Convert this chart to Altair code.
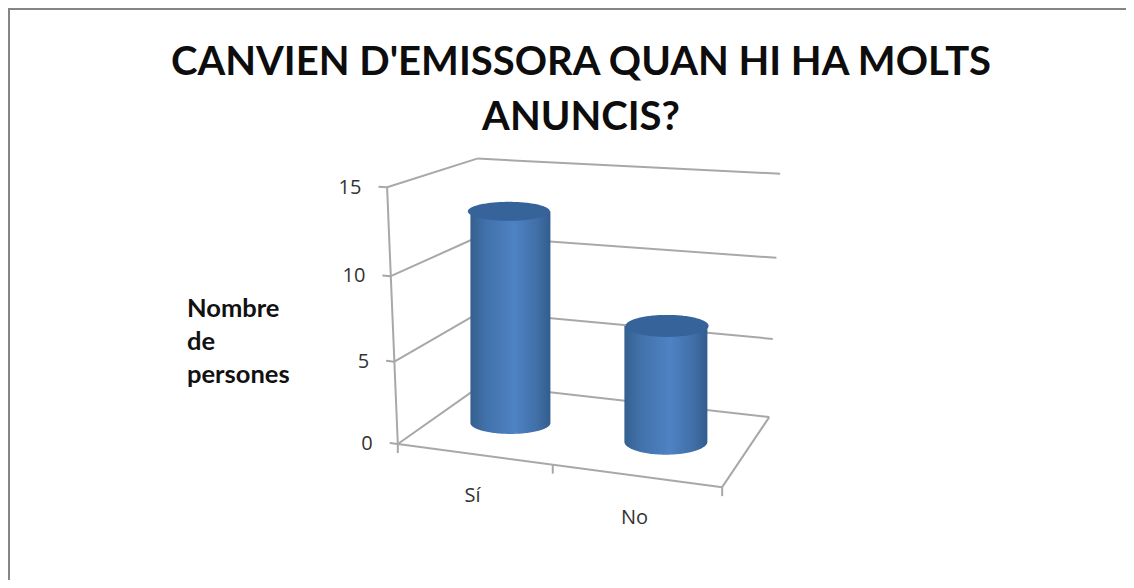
import numpy as np
import pandas as pd
import altair as alt

# --- chart values -----------------------------------------------------------
title_lines = ["CANVIEN D'EMISSORA QUAN HI HA MOLTS", "ANUNCIS?"]
categories = ["Sí", "No"]
values = [13, 7]
y_ticks = [0, 5, 10, 15]
y_title_lines = ["Nombre", "de", "persones"]

# --- 3D view: where known frame corners (category u, value v, depth d) land ---
view_u = [0, 0, 0, 0, 0, 0, 0, 0, 2, 2, 2, 2, 2, 1]
view_v = [0, 5, 10, 15, 0, 5, 10, 15, 0, 5, 10, 15, 0, 0]
view_d = [0, 0, 0, 0, 1, 1, 1, 1, 1, 1, 1, 1, 0, 0]
view_x = [398, 394, 392, 387, 483, 480, 478, 477, 769, 773, 777, 780, 722, 552]
view_y = [444, 361, 276, 187, 385, 312, 236, 159, 416, 339, 258, 174, 487, 466]

A = []
for u, v, d, px, py in zip(view_u, view_v, view_d, view_x, view_y):
    A.append([u, v, d, 1, 0, 0, 0, 0, -px * u, -px * v, -px * d, -px])
    A.append([0, 0, 0, 0, u, v, d, 1, -py * u, -py * v, -py * d, -py])
M = np.linalg.svd(np.array(A, dtype=float))[2][-1].reshape(3, 4)


def project(u, v, d):
    h = M @ np.array([u, v, d, 1.0])
    return h[0] / h[2], h[1] / h[2]


# --- frame lines ------------------------------------------------------------
segs = []


def seg(a, b):
    x, y = project(*a)
    x2, y2 = project(*b)
    segs.append(dict(x=x, y=y, x2=x2, y2=y2))


for t in y_ticks:
    seg((0, t, 0), (0, t, 1))
    seg((0, t, 1), (2, t, 1))
    seg((0, t, 0), (-0.055, t, 0))
seg((0, 0, 0), (0, 15, 0))
seg((0, 0, 0), (2, 0, 0))
seg((2, 0, 0), (2, 0, 1))
for u in [0, 1, 2]:
    x, y = project(u, 0, 0)
    segs.append(dict(x=x, y=y, x2=x, y2=y + 9))
frame = pd.DataFrame(segs)

# --- labels -----------------------------------------------------------------
tick_rows = []
for t in y_ticks:
    x, y = project(-0.055, t, 0)
    tick_rows.append(dict(x=x - 17, y=y + 1, text=str(t)))
tick_df = pd.DataFrame(tick_rows)

cat_rows = []
for i, c in enumerate(categories):
    x, y = project(i + 0.5, 0, 0)
    cat_rows.append(dict(x=x - 1, y=y + 42, text=c))
cat_df = pd.DataFrame(cat_rows)

title_df = pd.DataFrame(dict(text=title_lines, x=[581, 581], y=[75, 130]))
ytitle_df = pd.DataFrame(dict(text=y_title_lines, x=[187, 187, 187], y=[317, 350, 383]))

# --- sheet edge (as in the pasted picture: top and left only) ---------------
edge = pd.DataFrame(dict(x=[8.5, 8], y=[8, 8.5], x2=[8.5, 1134], y2=[588, 8.5]))

# --- scales: page pixels ----------------------------------------------------
W, H = 1118, 572
X = alt.X("x:Q", scale=alt.Scale(domain=[8, 8 + W], nice=False, zero=False), axis=None)
Y = alt.Y("y:Q", scale=alt.Scale(domain=[8 + H, 8], nice=False, zero=False), axis=None)

edge_layer = alt.Chart(edge).mark_rule(color="#858585", strokeWidth=3).encode(
    x=X, y=Y, x2="x2:Q", y2="y2:Q")
frame_layer = alt.Chart(frame).mark_rule(color="#a8a8a8", strokeWidth=2).encode(
    x=X, y=Y, x2="x2:Q", y2="y2:Q")

side_fill = alt.Gradient(
    gradient="linear", x1=0, x2=1, y1=0, y2=0,
    stops=[
        alt.GradientStop(color="#35608f", offset=0),
        alt.GradientStop(color="#4272ab", offset=0.2),
        alt.GradientStop(color="#4f82c4", offset=0.55),
        alt.GradientStop(color="#4170a9", offset=0.82),
        alt.GradientStop(color="#335d8e", offset=1),
    ],
)

radius_x_top = [41, 41.5]
radius_x_bot = [39, 41.5]
radius_y_top = [9.5, 11]
radius_y_bot = [11, 13]
bar_depth = 0.47

cyl_layers = []
for i, val in enumerate(values):
    tx, ty = project(i + 0.5, val, bar_depth)
    bx, by = project(i + 0.5, 0, bar_depth)
    s = np.linspace(0, np.pi, 81)
    c = -np.cos(s)
    side = pd.DataFrame(dict(
        x=(tx + bx) / 2 + c * (radius_x_top[i] + radius_x_bot[i]) / 2,
        y=ty + np.sin(s) * 0,
        y2=by + np.sin(s) * radius_y_bot[i],
    ))
    top = pd.DataFrame(dict(
        x=tx + c * radius_x_top[i],
        y=ty - np.sin(s) * radius_y_top[i],
        y2=ty + np.sin(s) * radius_y_top[i],
    ))
    cyl_layers.append(
        alt.Chart(side).mark_area(color=side_fill, interpolate="linear", line=False).encode(
            x=X, y=Y, y2="y2:Q"))
    cyl_layers.append(
        alt.Chart(top).mark_area(color="#35639a", interpolate="linear").encode(
            x=X, y=Y, y2="y2:Q"))

txt = dict(text="text:N", x=X, y=Y)
title_layer = alt.Chart(title_df).mark_text(
    font="Lato", fontWeight="bold", fontSize=40, align="center", baseline="alphabetic",
    color="#0d0d0d").encode(**txt)
ytitle_layer = alt.Chart(ytitle_df).mark_text(
    font="Lato", fontWeight="bold", fontSize=25.5, align="left", baseline="alphabetic",
    color="#111111").encode(**txt)
tick_layer = alt.Chart(tick_df).mark_text(
    font="Open Sans", fontSize=20, align="right", baseline="middle", color="#333333").encode(**txt)
cat_layer = alt.Chart(cat_df).mark_text(
    font="Open Sans", fontSize=20, align="center", baseline="middle", color="#333333").encode(**txt)

chart = alt.layer(
    edge_layer, frame_layer, *cyl_layers, title_layer, ytitle_layer, tick_layer, cat_layer
).properties(
    width=W, height=H, padding=0, autosize=alt.AutoSizeParams(type="none"),
    background="#ffffff",
).configure_view(stroke=None)

chart.save("out.html", embed_options={"renderer": "svg", "actions": False})
